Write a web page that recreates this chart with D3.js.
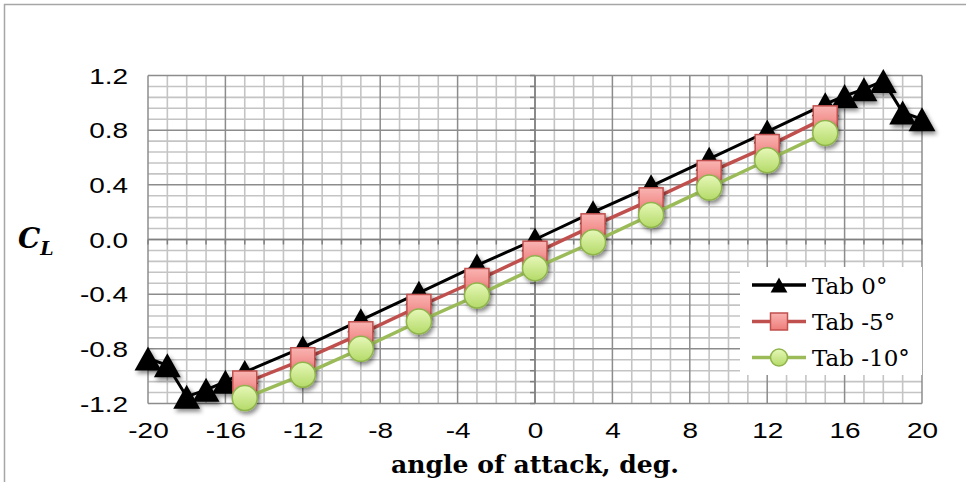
<!DOCTYPE html>
<html>
<head>
<meta charset="utf-8">
<script src="https://cdnjs.cloudflare.com/ajax/libs/d3/7.8.5/d3.min.js"></script>
<style>
  html, body { margin: 0; padding: 0; background: #fff; }
  svg { display: block; }
</style>
</head>
<body>
<svg id="chart" width="966" height="482"></svg>
<script>
// Lift coefficient vs. angle of attack for three tab settings
const tab0Alpha = [-20, -19, -18, -17, -16, -15, -12, -9, -6, -3, 0, 3, 6, 9, 12, 15, 16, 17, 18, 19, 20];
const tab0CL    = [-0.87, -0.92, -1.15, -1.10, -1.04, -0.97, -0.79, -0.59, -0.39, -0.19, 0.00, 0.20, 0.39, 0.59, 0.79, 0.99, 1.05, 1.10, 1.16, 0.93, 0.88];

const tabAlpha  = [-15, -12, -9, -6, -3, 0, 3, 6, 9, 12, 15];
const tabM5CL   = [-1.05, -0.88, -0.69, -0.49, -0.30, -0.10, 0.10, 0.29, 0.49, 0.68, 0.89];
const tabM10CL  = [-1.16, -0.99, -0.80, -0.60, -0.41, -0.21, -0.02, 0.18, 0.38, 0.58, 0.78];

const seriesNames = ["Tab 0°", "Tab -5°", "Tab -10°"];

const xTicks = [-20, -16, -12, -8, -4, 0, 4, 8, 12, 16, 20];
const yTicks = [-1.2, -0.8, -0.4, 0.0, 0.4, 0.8, 1.2];

const svg = d3.select("#chart");

// outer chart frame
svg.append("rect")
  .attr("x", 4.5).attr("y", 4.5)
  .attr("width", 1000).attr("height", 1000)
  .attr("fill", "none").attr("stroke", "#a6a6a6").attr("stroke-width", 1.5);

const x = d3.scaleLinear().domain([-20, 20]).range([148, 922]);
const y = d3.scaleLinear().domain([-1.2, 1.2]).range([403.5, 75.5]);

// defs: shadow + marker fills
const defs = svg.append("defs");
const sh = defs.append("filter").attr("id", "shadow")
  .attr("x", "-50%").attr("y", "-50%").attr("width", "200%").attr("height", "200%");
sh.append("feDropShadow").attr("dx", 2).attr("dy", 3).attr("stdDeviation", 2.2)
  .attr("flood-color", "#000").attr("flood-opacity", 0.45);

const gRed = defs.append("linearGradient").attr("id", "redFill")
  .attr("x1", 0).attr("y1", 0).attr("x2", 0).attr("y2", 1);
gRed.append("stop").attr("offset", "0%").attr("stop-color", "#f9b4b2");
gRed.append("stop").attr("offset", "100%").attr("stop-color", "#ee7c79");

const gGreen = defs.append("linearGradient").attr("id", "greenFill")
  .attr("x1", 0).attr("y1", 0).attr("x2", 0).attr("y2", 1);
gGreen.append("stop").attr("offset", "0%").attr("stop-color", "#e6f8b8");
gGreen.append("stop").attr("offset", "100%").attr("stop-color", "#b4da68");

// grid
const grid = svg.append("g");
const xMinor = d3.range(-20, 21, 1);
const yMinor = d3.range(-15, 16).map(i => +(i * 0.08).toFixed(2));
const isMajorX = v => v % 4 === 0;
const isMajorY = v => Math.abs(Math.round(v / 0.4) * 0.4 - v) < 1e-6;

grid.selectAll(".vx").data(xMinor.filter(v => !isMajorX(v))).join("line")
  .attr("x1", d => x(d)).attr("x2", d => x(d))
  .attr("y1", y(1.2)).attr("y2", y(-1.2))
  .attr("stroke", "#c4c4c4").attr("stroke-width", 1.6);
grid.selectAll(".hy").data(yMinor.filter(v => !isMajorY(v))).join("line")
  .attr("x1", x(-20)).attr("x2", x(20))
  .attr("y1", d => y(d)).attr("y2", d => y(d))
  .attr("stroke", "#c4c4c4").attr("stroke-width", 1.6);
grid.selectAll(".vxm").data(xMinor.filter(isMajorX)).join("line")
  .attr("x1", d => x(d)).attr("x2", d => x(d))
  .attr("y1", y(1.2)).attr("y2", y(-1.2))
  .attr("stroke", "#8c8c8c").attr("stroke-width", 1.5);
grid.selectAll(".hym").data(yMinor.filter(isMajorY)).join("line")
  .attr("x1", x(-20)).attr("x2", x(20))
  .attr("y1", d => y(d)).attr("y2", d => y(d))
  .attr("stroke", "#8c8c8c").attr("stroke-width", 1.5);

// axis lines through the origin with small ticks
const axes = svg.append("g");
axes.append("line").attr("x1", x(-20)).attr("x2", x(20)).attr("y1", y(0)).attr("y2", y(0))
  .attr("stroke", "#808080").attr("stroke-width", 1.5);
axes.append("line").attr("x1", x(0)).attr("x2", x(0)).attr("y1", y(1.2)).attr("y2", y(-1.2))
  .attr("stroke", "#808080").attr("stroke-width", 1.5);
axes.selectAll(".tx").data(xMinor).join("line")
  .attr("x1", d => x(d)).attr("x2", d => x(d)).attr("y1", y(0)).attr("y2", y(0) + 5)
  .attr("stroke", "#808080").attr("stroke-width", 1.5);
axes.selectAll(".ty").data(yMinor).join("line")
  .attr("x1", x(0) - 5).attr("x2", x(0)).attr("y1", d => y(d)).attr("y2", d => y(d))
  .attr("stroke", "#808080").attr("stroke-width", 1.5);

// tick labels via d3 axes (plain hyphen-minus, as typed in the sheet)
const fmtX = d => String(d);
const fmtY = d => d.toFixed(1);
const tickFont = "'Liberation Sans', Arial, Helvetica, sans-serif";

const xAxis = svg.append("g").attr("transform", `translate(0,${y(-1.2)})`)
  .call(d3.axisBottom(x).tickValues(xTicks).tickSize(0).tickFormat(fmtX));
xAxis.select(".domain").remove();
xAxis.selectAll("text")
  .attr("y", 0).attr("dy", null)
  .attr("transform", "translate(0,34) scale(1.27,1)")
  .attr("font-family", tickFont)
  .attr("font-size", 22).attr("fill", "#000");

const yAxis = svg.append("g").attr("transform", `translate(${x(-20)},0)`)
  .call(d3.axisLeft(y).tickValues(yTicks).tickSize(0).tickFormat(fmtY));
yAxis.select(".domain").remove();
yAxis.selectAll("text")
  .attr("x", 0).attr("dy", null)
  .attr("transform", "translate(-20,7.5) scale(1.27,1)")
  .attr("font-family", tickFont)
  .attr("font-size", 22).attr("fill", "#000");

// axis titles
svg.append("text")
  .attr("x", x(0)).attr("y", 473)
  .attr("text-anchor", "middle")
  .attr("font-family", "'DejaVu Serif', serif")
  .attr("font-weight", "bold").attr("font-size", 25)
  .attr("textLength", 288).attr("lengthAdjust", "spacingAndGlyphs")
  .text("angle of attack, deg.");

const cl = svg.append("text")
  .attr("x", 18).attr("y", 248)
  .attr("font-family", "'DejaVu Serif', serif")
  .attr("font-weight", "bold").attr("font-style", "italic");
cl.append("tspan").attr("font-size", 28).text("C");
cl.append("tspan").attr("font-size", 19).attr("dy", 7).text("L");

// marker shapes
const triPath = s => `M0,${-s} L${s * 1.12},${s} L${-s * 1.12},${s} Z`;
function drawMarker(g, kind, cx, cy, s) {
  if (kind === "tri") {
    g.append("path").attr("d", triPath(s)).attr("transform", `translate(${cx},${cy})`)
      .attr("fill", "#000");
  } else if (kind === "sq") {
    g.append("rect").attr("x", cx - s).attr("y", cy - s).attr("width", 2 * s).attr("height", 2 * s)
      .attr("fill", "url(#redFill)").attr("stroke", "#c0504d").attr("stroke-width", 1.5);
  } else {
    g.append("circle").attr("cx", cx).attr("cy", cy).attr("r", s)
      .attr("fill", "url(#greenFill)").attr("stroke", "#8fb44c").attr("stroke-width", 1.5);
  }
}

const series = [
  { name: seriesNames[0], xs: tab0Alpha, ys: tab0CL,   color: "#000000", kind: "tri", width: 3 },
  { name: seriesNames[1], xs: tabAlpha,  ys: tabM5CL,  color: "#c0504d", kind: "sq",  width: 3.5 },
  { name: seriesNames[2], xs: tabAlpha,  ys: tabM10CL, color: "#9bbb59", kind: "ci",  width: 3.5 }
];

const line = d3.line().x(d => x(d[0])).y(d => y(d[1]));
const markerSize = { tri: 12, sq: 12, ci: 12.5 };

series.forEach(s => {
  const pts = s.xs.map((v, i) => [v, s.ys[i]]);
  const g = svg.append("g");
  g.append("path").datum(pts).attr("d", line)
    .attr("fill", "none").attr("stroke", s.color).attr("stroke-width", s.width)
    .attr("stroke-linejoin", "round");
  const mg = g.append("g").attr("filter", "url(#shadow)");
  pts.forEach(p => drawMarker(mg, s.kind, x(p[0]), y(p[1]), markerSize[s.kind]));
});

// legend
const lg = svg.append("g");
lg.append("rect").attr("x", 740).attr("y", 267).attr("width", 182).attr("height", 108).attr("fill", "#fff");
const legendRows = [285, 321.5, 357.5];
series.forEach((s, i) => {
  const ry = legendRows[i];
  lg.append("line").attr("x1", 752).attr("x2", 806).attr("y1", ry).attr("y2", ry)
    .attr("stroke", s.color).attr("stroke-width", 3.5);
  const mg = lg.append("g");
  drawMarker(mg, s.kind, 779, ry, s.kind === "tri" ? 7.5 : 8.5);
  lg.append("text").attr("x", 812).attr("y", ry + 8.5)
    .attr("font-family", "'DejaVu Serif', serif").attr("font-size", 23)
    .attr("fill", "#000").text(s.name);
});
</script>
</body>
</html>
